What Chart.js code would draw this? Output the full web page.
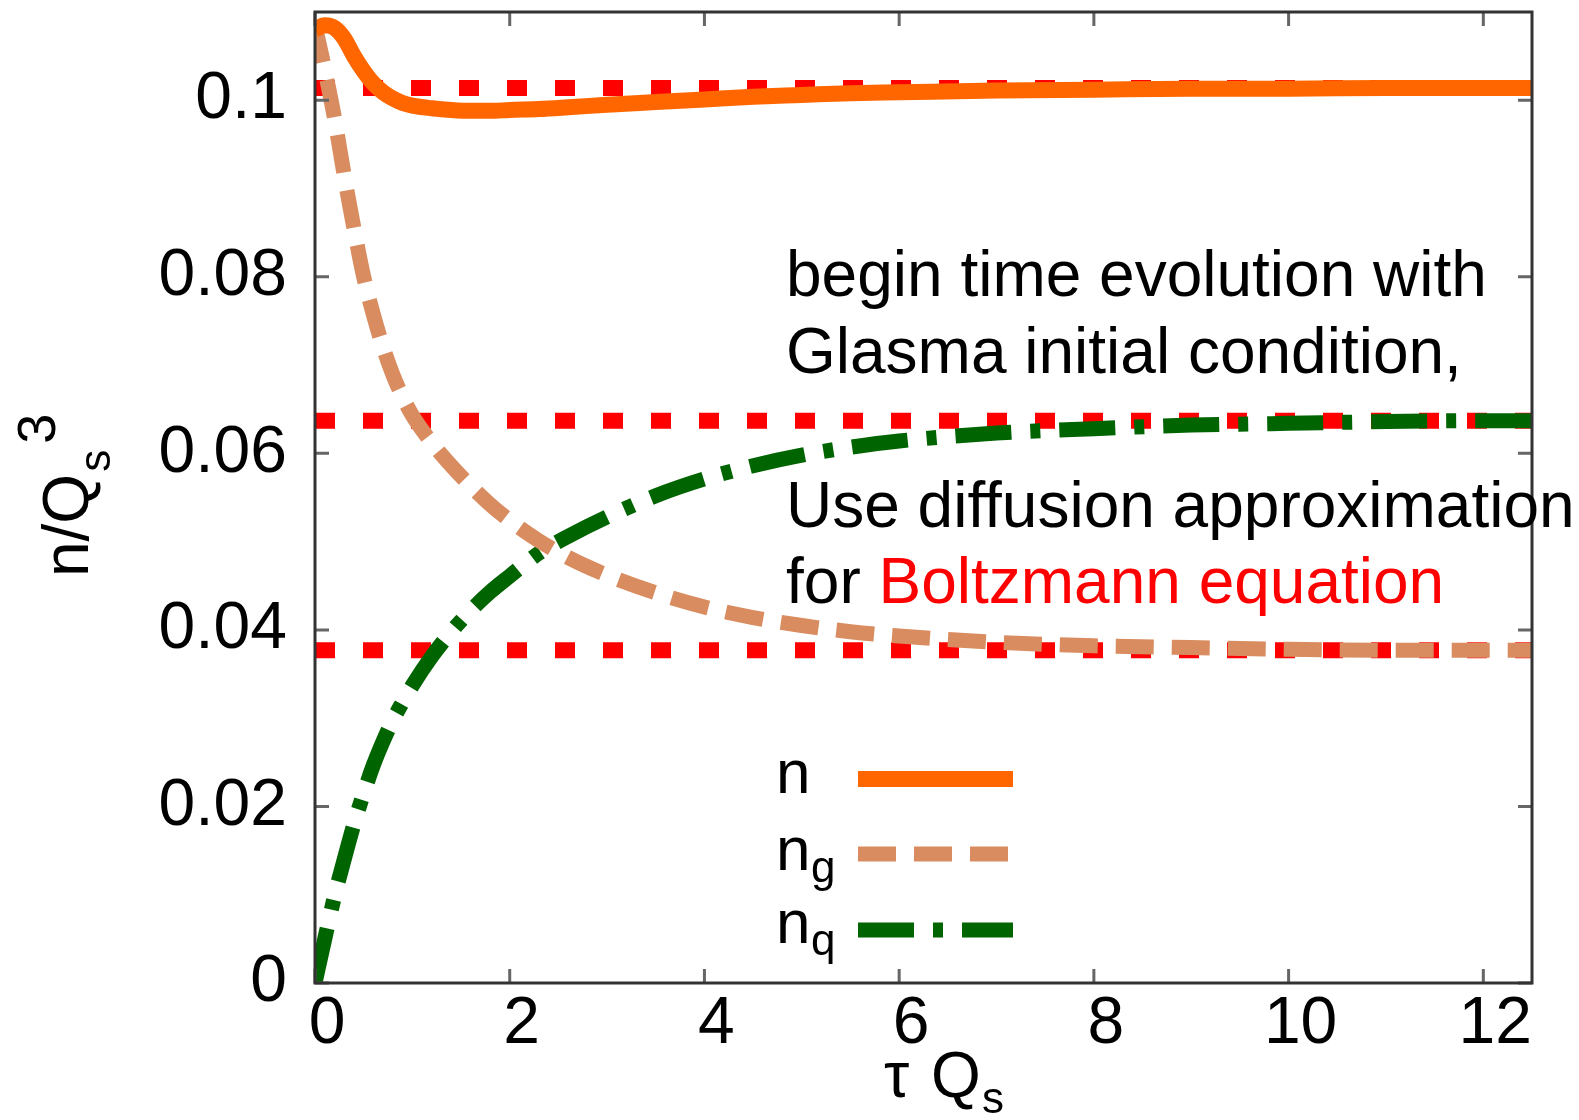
<!DOCTYPE html>
<html>
<head>
<meta charset="utf-8">
<script src="https://cdn.jsdelivr.net/npm/chart.js@4.4.1/dist/chart.umd.min.js"></script>
<style>
  html, body { margin: 0; padding: 0; background: #fff; }
  #wrap { width: 1579px; height: 1120px; }
</style>
</head>
<body>
<div id="wrap"><canvas id="myChart" width="1579" height="1120"></canvas></div>
<script>
// tau*Qs sample points
const tau = [0, 0.1, 0.2, 0.3, 0.4, 0.5, 0.6, 0.7, 0.8, 0.9, 1.0, 1.2, 1.4, 1.6, 1.8, 2.0, 2.3, 2.6, 3.0, 3.5, 4.0, 4.5, 5.0, 5.5, 6.0, 7.0, 8.0, 9.0, 10, 11, 12, 12.5];

// n / Qs^3 total
const nTotal = [0.1080, 0.1085, 0.1082, 0.1070, 0.1050, 0.1033, 0.1019, 0.1009, 0.1002, 0.0997, 0.0994, 0.0991, 0.0989, 0.0988, 0.0988, 0.0989, 0.0990, 0.0992, 0.0995, 0.0998, 0.1001, 0.1004, 0.1006, 0.1008, 0.1009, 0.1011, 0.1012, 0.1013, 0.1013, 0.1014, 0.1014, 0.1014];
// gluons
const nGluon = [0.1085, 0.1035, 0.0980, 0.0915, 0.0855, 0.0800, 0.0757, 0.0720, 0.0689, 0.0664, 0.0643, 0.0612, 0.0586, 0.0563, 0.0542, 0.0524, 0.0501, 0.0482, 0.0462, 0.0442, 0.0426, 0.0414, 0.0405, 0.0398, 0.0393, 0.0386, 0.0382, 0.0380, 0.0378, 0.0377, 0.0377, 0.0377];
// quarks
const nQuark = [0, 0.0050, 0.0098, 0.0140, 0.0180, 0.0215, 0.0247, 0.0274, 0.0298, 0.0318, 0.0337, 0.0370, 0.0398, 0.0422, 0.0443, 0.0461, 0.0487, 0.0506, 0.0528, 0.0552, 0.0571, 0.0586, 0.0598, 0.0607, 0.0614, 0.0623, 0.0628, 0.0632, 0.0634, 0.0636, 0.0637, 0.0637];

// equilibrium values (red dotted lines)
const eqLevels = [0.1014, 0.0637, 0.0377];

const xTicks = [0, 2, 4, 6, 8, 10, 12];
const yTicks = [0, 0.02, 0.04, 0.06, 0.08, 0.1];

const FONT = '"Liberation Sans", Arial, Helvetica, sans-serif';

function toPoints(ys) {
    return tau.map((t, i) => ({x: t, y: ys[i]}));
}

let datasets = [
    {label: 'n', data: toPoints(nTotal), borderColor: '#ff6600', borderWidth: 16, borderDash: []},
    {label: 'n_g', data: toPoints(nGluon), borderColor: '#d98c5f', borderWidth: 15, borderDash: [38, 18]},
    {label: 'n_q', data: toPoints(nQuark), borderColor: '#006400', borderWidth: 15, borderDash: [56, 19, 10, 19]}
];
datasets.forEach(d => {
    d.pointRadius = 0;
    d.cubicInterpolationMode = 'monotone';
    d.borderCapStyle = 'butt';
    d.fill = false;
    d.order = 1;
});
eqLevels.forEach(v => {
    datasets.push({
        label: 'eq',
        data: [{x: 0, y: v}, {x: 12.5, y: v}],
        borderColor: '#ff0000',
        borderWidth: 16,
        borderDash: [20, 28],
        borderCapStyle: 'butt',
        pointRadius: 0,
        fill: false,
        order: 5
    });
});

// frame, inside tick marks, titles, legend and notes
const decorations = {
    id: 'decorations',
    afterDraw(chart) {
        const ctx = chart.ctx;
        const a = chart.chartArea;
        const xs = chart.scales.x, ys = chart.scales.y;

        ctx.save();
        // inside ticks on all four sides
        ctx.strokeStyle = '#666';
        ctx.lineWidth = 3;
        ctx.beginPath();
        xTicks.forEach(v => {
            const px = xs.getPixelForValue(v);
            ctx.moveTo(px, a.bottom); ctx.lineTo(px, a.bottom - 14);
            ctx.moveTo(px, a.top); ctx.lineTo(px, a.top + 14);
        });
        yTicks.forEach(v => {
            const py = ys.getPixelForValue(v);
            ctx.moveTo(a.left, py); ctx.lineTo(a.left + 14, py);
            ctx.moveTo(a.right, py); ctx.lineTo(a.right - 14, py);
        });
        ctx.stroke();

        // frame
        ctx.strokeStyle = '#333';
        ctx.lineWidth = 3;
        ctx.strokeRect(a.left, a.top, a.right - a.left, a.bottom - a.top);

        ctx.fillStyle = '#000';
        ctx.textBaseline = 'alphabetic';
        ctx.textAlign = 'left';

        // x title: tau Q_s
        ctx.font = '64px ' + FONT;
        ctx.fillText('\u03c4', 884, 1097);
        ctx.fillText('Q', 931, 1097);
        ctx.font = '44px ' + FONT;
        ctx.fillText('s', 982, 1113);

        // y title: n/Q_s^3 rotated
        ctx.save();
        ctx.translate(88, 577);
        ctx.rotate(-Math.PI / 2);
        ctx.font = '64px ' + FONT;
        ctx.fillText('n/Q', 0, 0);
        let w = ctx.measureText('n/Q').width;
        ctx.font = '44px ' + FONT;
        ctx.fillText('s', w + 2, 22);
        ctx.font = '54px ' + FONT;
        ctx.fillText('3', w + 30, -33);
        ctx.restore();

        // legend
        const legendRows = [
            {main: 'n', sub: '', y: 779, base: 793, ds: 0},
            {main: 'n', sub: 'g', y: 854, base: 870, ds: 1},
            {main: 'n', sub: 'q', y: 930, base: 943, ds: 2}
        ];
        legendRows.forEach(r => {
            ctx.fillStyle = '#000';
            ctx.font = '62px ' + FONT;
            ctx.fillText(r.main, 776, r.base);
            if (r.sub) {
                ctx.font = '44px ' + FONT;
                ctx.fillText(r.sub, 811, r.base + 12);
            }
            const d = chart.data.datasets[r.ds];
            ctx.strokeStyle = d.borderColor;
            ctx.lineWidth = d.borderWidth;
            ctx.lineCap = 'butt';
            ctx.setLineDash(d.borderDash);
            ctx.beginPath();
            ctx.moveTo(858, r.y);
            ctx.lineTo(1013, r.y);
            ctx.stroke();
            ctx.setLineDash([]);
        });

        // notes
        ctx.font = '64px ' + FONT;
        ctx.fillStyle = '#000';
        ctx.fillText('begin time evolution with', 786, 296);
        ctx.fillText('Glasma initial condition,', 786, 373);
        ctx.fillText('Use diffusion approximation', 786, 527);
        ctx.fillText('for ', 786, 603);
        const fw = ctx.measureText('for ').width;
        ctx.fillStyle = '#ff0000';
        ctx.fillText('Boltzmann equation', 786 + fw, 603);
        ctx.restore();
    }
};

new Chart(document.getElementById('myChart'), {
    type: 'line',
    data: {datasets: datasets},
    options: {
        responsive: false,
        devicePixelRatio: 1,
        animation: false,
        layout: {padding: {top: 12, right: 47, left: 0, bottom: 0}},
        plugins: {legend: {display: false}, tooltip: {enabled: false}},
        scales: {
            x: {
                type: 'linear',
                min: 0,
                max: 12.5,
                grid: {display: false, drawTicks: false},
                border: {display: false},
                afterBuildTicks: s => { s.ticks = xTicks.map(v => ({value: v})); },
                afterFit: s => {
                    s.height = 137;
                    s.paddingLeft = 0; s.paddingRight = 0;
                },
                ticks: {
                    padding: 2,
                    labelOffset: 12,
                    color: '#000',
                    font: {family: FONT, size: 66},
                    maxRotation: 0,
                    callback: v => String(v)
                }
            },
            y: {
                type: 'linear',
                min: 0,
                max: 0.11,
                grid: {display: false, drawTicks: false},
                border: {display: false},
                afterBuildTicks: s => { s.ticks = yTicks.map(v => ({value: v})); },
                afterFit: s => {
                    s.width = 315;
                    s.paddingTop = 0; s.paddingBottom = 0;
                },
                ticks: {
                    padding: 28,
                    color: '#000',
                    font: {family: FONT, size: 66},
                    callback: v => String(Number(v.toFixed(2)))
                }
            }
        }
    },
    plugins: [decorations]
});
</script>
</body>
</html>
